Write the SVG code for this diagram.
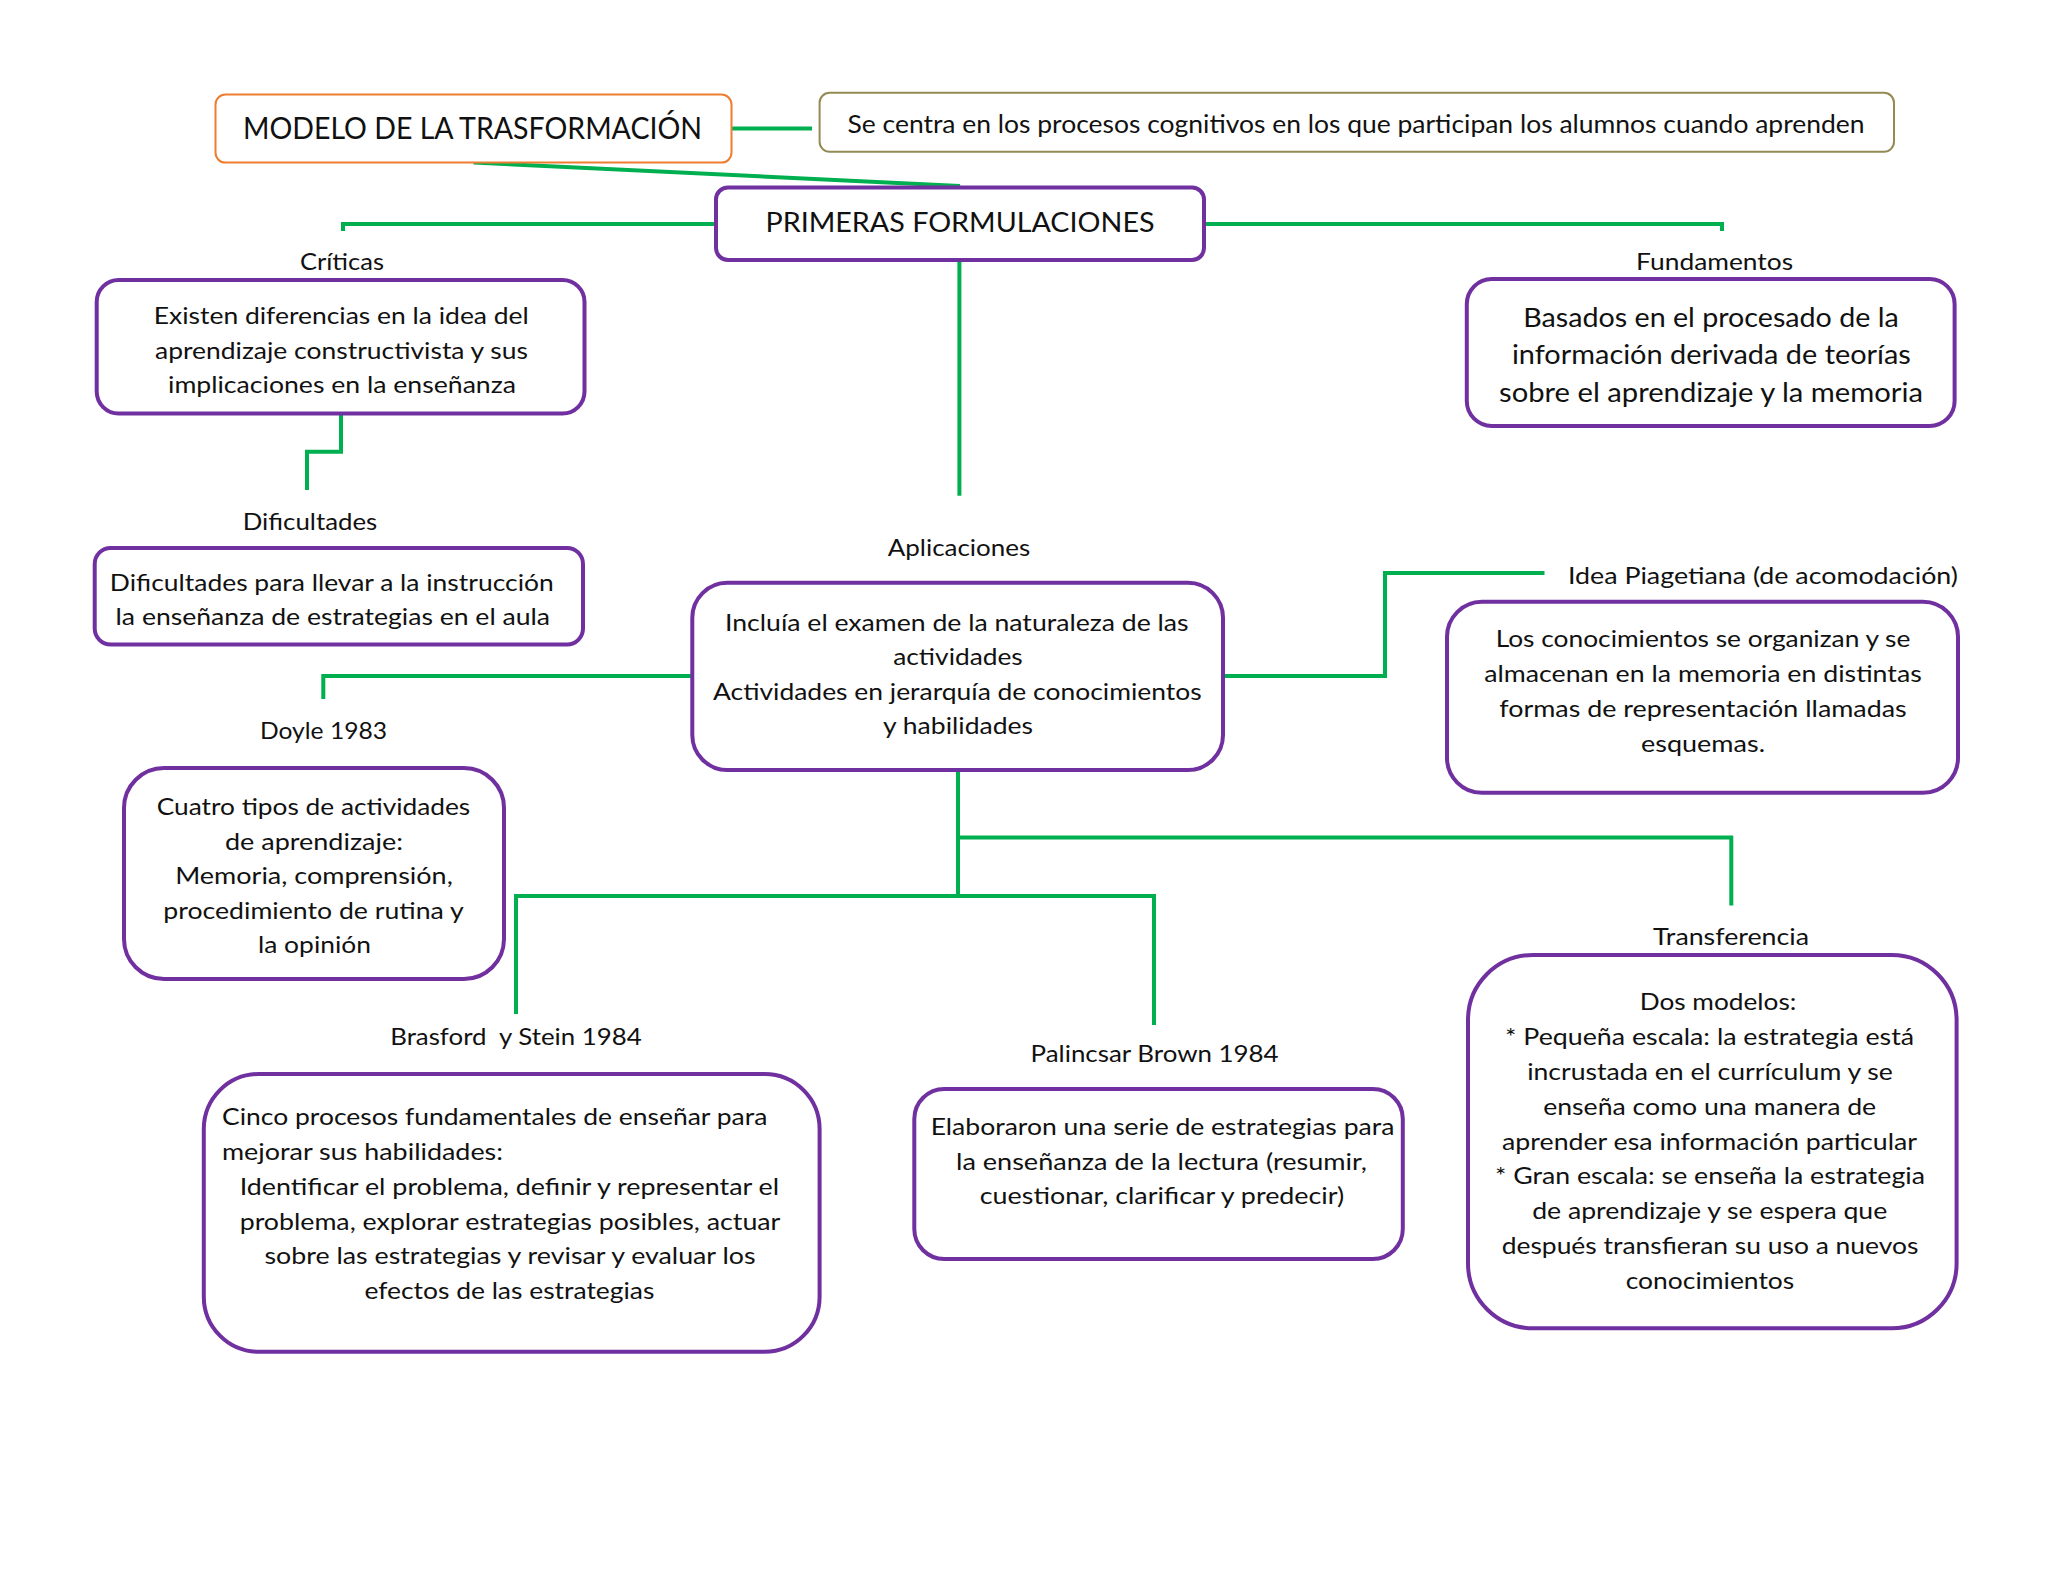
<svg xmlns="http://www.w3.org/2000/svg" width="2048" height="1582" viewBox="0 0 2048 1582">
<style>
text{font-family:Lato,"Open Sans","Liberation Sans",sans-serif;fill:#111;white-space:pre}
.c{text-anchor:middle}
.b{font-size:24px}
.f{font-size:26.5px}
.box{fill:#fff;stroke:#7030A0;stroke-width:4}
.con{fill:none;stroke:#00B050;stroke-width:4;stroke-linejoin:miter;stroke-linecap:butt}
</style>
<rect width="2048" height="1582" fill="#fff"/>
<g id="connectors">
<path class="con" d="M731,128.5 H812"/>
<path class="con" d="M473.5,162.5 L960,186"/>
<path class="con" d="M715,224 H343 V231"/>
<path class="con" d="M1204,224 H1722 V231"/>
<path class="con" d="M959.4,260.7 V495.7"/>
<path class="con" d="M341,413.5 V451.8 H307 V490"/>
<path class="con" d="M691,676 H323.3 V699"/>
<path class="con" d="M1223,676 H1385 V573 H1544.5"/>
<path class="con" d="M958,770 V896"/>
<path class="con" d="M958,837.5 H1731.3 V905.4"/>
<path class="con" d="M958,896 H516 V1014"/>
<path class="con" d="M958,896 H1154 V1025"/>
</g>
<g id="modelo">
<rect x="215.5" y="94.6" width="516" height="68" rx="10" fill="#fff" stroke="#ED7D31" stroke-width="2"/>
<text class="c" x="472.5" y="139" font-size="30" textLength="459" lengthAdjust="spacingAndGlyphs">MODELO DE LA TRASFORMACIÓN</text>
</g>
<g id="se-centra">
<rect x="819.6" y="92.8" width="1074.4" height="59" rx="10" fill="#fff" stroke="#948A54" stroke-width="2"/>
<text class="c" x="1356" y="133" font-size="25" textLength="1017" lengthAdjust="spacingAndGlyphs">Se centra en los procesos cognitivos en los que participan los alumnos cuando aprenden</text>
</g>
<g id="primeras">
<rect class="box" x="716" y="187.5" width="488" height="72.5" rx="12"/>
<text class="c" x="960" y="232" font-size="27" textLength="389" lengthAdjust="spacingAndGlyphs">PRIMERAS FORMULACIONES</text>
</g>
<g id="criticas">
<text class="c b" x="342" y="270" textLength="84" lengthAdjust="spacingAndGlyphs">Críticas</text>
<rect class="box" x="96.7" y="280" width="487.8" height="133.5" rx="22"/>
<text class="c b" x="341.3" y="324" textLength="375" lengthAdjust="spacingAndGlyphs">Existen diferencias en la idea del</text>
<text class="c b" x="341.5" y="358.7" textLength="373" lengthAdjust="spacingAndGlyphs">aprendizaje constructivista y sus</text>
<text class="c b" x="342" y="393.4" textLength="348" lengthAdjust="spacingAndGlyphs">implicaciones en la enseñanza</text>
</g>
<g id="fundamentos">
<text class="c b" x="1714.6" y="269.6" textLength="157" lengthAdjust="spacingAndGlyphs">Fundamentos</text>
<rect class="box" x="1466.8" y="279" width="487.8" height="147" rx="25"/>
<text class="c f" x="1711" y="326.7" textLength="375.5" lengthAdjust="spacingAndGlyphs">Basados en el procesado de la</text>
<text class="c f" x="1711.4" y="364.3" textLength="399" lengthAdjust="spacingAndGlyphs">información derivada de teorías</text>
<text class="c f" x="1711" y="401.8" textLength="424" lengthAdjust="spacingAndGlyphs">sobre el aprendizaje y la memoria</text>
</g>
<g id="dificultades">
<text class="c b" x="310" y="530" textLength="134.5" lengthAdjust="spacingAndGlyphs">Dificultades</text>
<rect class="box" x="94.7" y="548" width="488.3" height="96.6" rx="16"/>
<text class="c b" x="331.8" y="591" textLength="444" lengthAdjust="spacingAndGlyphs">Dificultades para llevar a la instrucción</text>
<text class="c b" x="332.8" y="625" textLength="434.4" lengthAdjust="spacingAndGlyphs">la enseñanza de estrategias en el aula</text>
</g>
<g id="aplicaciones">
<text class="c b" x="959" y="555.5" textLength="142.5" lengthAdjust="spacingAndGlyphs">Aplicaciones</text>
<rect class="box" x="692.3" y="582.8" width="530.7" height="187.2" rx="35"/>
<text class="c b" x="956.8" y="630.5" textLength="463.6" lengthAdjust="spacingAndGlyphs">Incluía el examen de la naturaleza de las</text>
<text class="c b" x="958" y="665" textLength="129.5" lengthAdjust="spacingAndGlyphs">actividades</text>
<text class="c b" x="957.3" y="699.5" textLength="488.6" lengthAdjust="spacingAndGlyphs">Actividades en jerarquía de conocimientos</text>
<text class="c b" x="958" y="734" textLength="150" lengthAdjust="spacingAndGlyphs">y habilidades</text>
</g>
<g id="piaget">
<text class="b" x="1568" y="584" textLength="390" lengthAdjust="spacingAndGlyphs">Idea Piagetiana (de acomodación)</text>
<rect class="box" x="1447" y="601.8" width="511" height="191" rx="35"/>
<text class="c b" x="1703" y="647" textLength="414.7" lengthAdjust="spacingAndGlyphs">Los conocimientos se organizan y se</text>
<text class="c b" x="1703" y="682" textLength="437.6" lengthAdjust="spacingAndGlyphs">almacenan en la memoria en distintas</text>
<text class="c b" x="1703" y="716.7" textLength="407.5" lengthAdjust="spacingAndGlyphs">formas de representación llamadas</text>
<text class="c b" x="1703" y="751.7" textLength="124" lengthAdjust="spacingAndGlyphs">esquemas.</text>
</g>
<g id="doyle">
<text class="c b" x="323.5" y="738.5" textLength="127" lengthAdjust="spacingAndGlyphs">Doyle 1983</text>
<rect class="box" x="124" y="768" width="380" height="211" rx="40"/>
<text class="c b" x="313.5" y="815" textLength="313.5" lengthAdjust="spacingAndGlyphs">Cuatro tipos de actividades</text>
<text class="c b" x="314" y="849.5" textLength="178" lengthAdjust="spacingAndGlyphs">de aprendizaje:</text>
<text class="c b" x="314" y="884" textLength="277.6" lengthAdjust="spacingAndGlyphs">Memoria, comprensión,</text>
<text class="c b" x="313.5" y="918.5" textLength="300.4" lengthAdjust="spacingAndGlyphs">procedimiento de rutina y</text>
<text class="c b" x="314.5" y="953" textLength="113" lengthAdjust="spacingAndGlyphs">la opinión</text>
</g>
<g id="brasford">
<text class="c b" x="516" y="1044.5" textLength="251.5" lengthAdjust="spacingAndGlyphs">Brasford  y Stein 1984</text>
<rect class="box" x="203.8" y="1074" width="615.8" height="277.7" rx="55"/>
<text class="b" x="222" y="1125" textLength="545.3" lengthAdjust="spacingAndGlyphs">Cinco procesos fundamentales de enseñar para</text>
<text class="b" x="222" y="1160" textLength="281" lengthAdjust="spacingAndGlyphs">mejorar sus habilidades:</text>
<text class="c b" x="509.4" y="1195" textLength="539.4" lengthAdjust="spacingAndGlyphs">Identificar el problema, definir y representar el</text>
<text class="c b" x="510" y="1229.5" textLength="540.7" lengthAdjust="spacingAndGlyphs">problema, explorar estrategias posibles, actuar</text>
<text class="c b" x="510" y="1264" textLength="491" lengthAdjust="spacingAndGlyphs">sobre las estrategias y revisar y evaluar los</text>
<text class="c b" x="509.4" y="1299" textLength="290" lengthAdjust="spacingAndGlyphs">efectos de las estrategias</text>
</g>
<g id="palincsar">
<text class="c b" x="1154.6" y="1062" textLength="248" lengthAdjust="spacingAndGlyphs">Palincsar Brown 1984</text>
<rect class="box" x="914.3" y="1089" width="488.5" height="170" rx="30"/>
<text class="c b" x="1162.5" y="1135" textLength="463.7" lengthAdjust="spacingAndGlyphs">Elaboraron una serie de estrategias para</text>
<text class="c b" x="1161.5" y="1169.5" textLength="411" lengthAdjust="spacingAndGlyphs">la enseñanza de la lectura (resumir,</text>
<text class="c b" x="1162" y="1204" textLength="364.4" lengthAdjust="spacingAndGlyphs">cuestionar, clarificar y predecir)</text>
</g>
<g id="transferencia">
<text class="c b" x="1731" y="945" textLength="156" lengthAdjust="spacingAndGlyphs">Transferencia</text>
<rect class="box" x="1468" y="955" width="488.6" height="373.3" rx="65"/>
<text class="c b" x="1718" y="1010" textLength="156.7" lengthAdjust="spacingAndGlyphs">Dos modelos:</text>
<text class="c b" x="1709.6" y="1045" textLength="409" lengthAdjust="spacingAndGlyphs">* Pequeña escala: la estrategia está</text>
<text class="c b" x="1710" y="1080" textLength="365.7" lengthAdjust="spacingAndGlyphs">incrustada en el currículum y se</text>
<text class="c b" x="1709.7" y="1115" textLength="333" lengthAdjust="spacingAndGlyphs">enseña como una manera de</text>
<text class="c b" x="1709.6" y="1149.5" textLength="415" lengthAdjust="spacingAndGlyphs">aprender esa información particular</text>
<text class="c b" x="1710" y="1184" textLength="430" lengthAdjust="spacingAndGlyphs">* Gran escala: se enseña la estrategia</text>
<text class="c b" x="1709.7" y="1219" textLength="355" lengthAdjust="spacingAndGlyphs">de aprendizaje y se espera que</text>
<text class="c b" x="1710" y="1254" textLength="416.7" lengthAdjust="spacingAndGlyphs">después transfieran su uso a nuevos</text>
<text class="c b" x="1710" y="1288.5" textLength="168.6" lengthAdjust="spacingAndGlyphs">conocimientos</text>
</g>
</svg>
